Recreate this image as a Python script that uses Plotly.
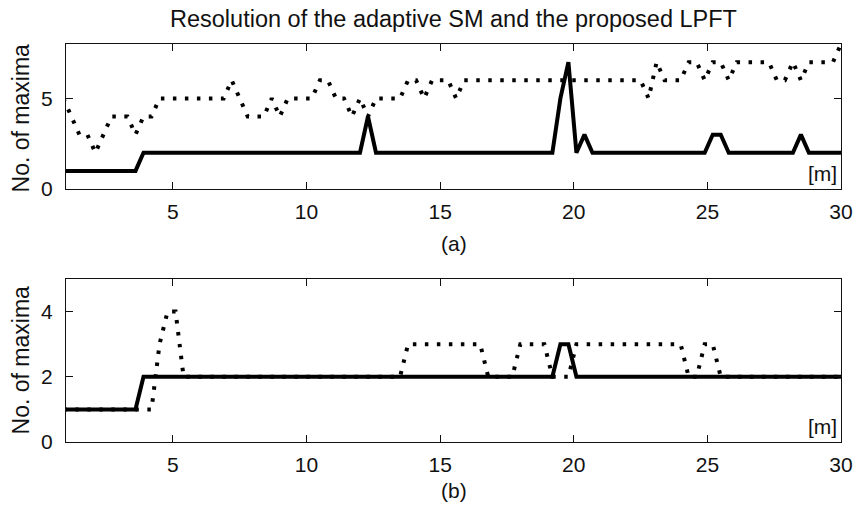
import plotly.graph_objects as go
from plotly.subplots import make_subplots

# distance grid [m] (sampling step 0.3 m)
dist_m = [round(0.3 * k, 1) for k in range(3, 101)]

# panel (a): number of maxima
a_solid = [1, 1, 1, 1, 1, 1, 1, 1, 1, 1,
           2, 2, 2, 2, 2, 2, 2, 2, 2, 2,
           2, 2, 2, 2, 2, 2, 2, 2, 2, 2,
           2, 2, 2, 2, 2, 2, 2, 2, 4, 2,
           2, 2, 2, 2, 2, 2, 2, 2, 2, 2,
           2, 2, 2, 2, 2, 2, 2, 2, 2, 2,
           2, 2, 5, 7, 2, 3, 2, 2, 2, 2,
           2, 2, 2, 2, 2, 2, 2, 2, 2, 2,
           2, 3, 3, 2, 2, 2, 2, 2, 2, 2,
           2, 2, 3, 2, 2, 2, 2, 2]
a_dotted = [5, 4, 3, 3, 2, 3, 4, 4, 4, 3,
            4, 4, 5, 5, 5, 5, 5, 5, 5, 5,
            5, 6, 5, 4, 4, 4, 5, 4, 5, 5,
            5, 5, 6, 6, 5, 5, 4, 5, 4, 5,
            5, 5, 5, 6, 6, 5, 6, 6, 6, 5,
            6, 6, 6, 6, 6, 6, 6, 6, 6, 6,
            6, 6, 6, 6, 6, 6, 6, 6, 6, 6,
            6, 6, 6, 5, 7, 6, 6, 6, 7, 7,
            6, 7, 7, 6, 7, 7, 7, 7, 7, 6,
            6, 7, 6, 7, 7, 7, 7, 8]

# panel (b)
b_solid = [1, 1, 1, 1, 1, 1, 1, 1, 1, 1,
           2, 2, 2, 2, 2, 2, 2, 2, 2, 2,
           2, 2, 2, 2, 2, 2, 2, 2, 2, 2,
           2, 2, 2, 2, 2, 2, 2, 2, 2, 2,
           2, 2, 2, 2, 2, 2, 2, 2, 2, 2,
           2, 2, 2, 2, 2, 2, 2, 2, 2, 2,
           2, 2, 3, 3, 2, 2, 2, 2, 2, 2,
           2, 2, 2, 2, 2, 2, 2, 2, 2, 2,
           2, 2, 2, 2, 2, 2, 2, 2, 2, 2,
           2, 2, 2, 2, 2, 2, 2, 2]
b_dotted = [1, 1, 1, 1, 1, 1, 1, 1, 1, 1,
            1, 1, 3, 4, 4, 2, 2, 2, 2, 2,
            2, 2, 2, 2, 2, 2, 2, 2, 2, 2,
            2, 2, 2, 2, 2, 2, 2, 2, 2, 2,
            2, 2, 2, 3, 3, 3, 3, 3, 3, 3,
            3, 3, 3, 2, 2, 2, 2, 3, 3, 3,
            3, 2, 2, 2, 3, 3, 3, 3, 3, 3,
            3, 3, 3, 3, 3, 3, 3, 3, 2, 2,
            3, 3, 2, 2, 2, 2, 2, 2, 2, 2,
            2, 2, 2, 2, 2, 2, 2, 2]

x_ticks = [5, 10, 15, 20, 25, 30]
a_yticks = [0, 5]
b_yticks = [0, 2, 4]

title_text = "Resolution of the adaptive SM and the proposed LPFT"
ylab = "No. of maxima"

FONT = "Liberation Sans, Arial, Helvetica, sans-serif"
INK = "#111111"

fig = make_subplots(rows=2, cols=1)

solid = dict(color="black", width=4)
dotted = dict(color="black", width=4, dash="3.5px,8.5px")

fig.add_trace(go.Scatter(x=dist_m, y=a_solid, mode="lines", line=solid,
                         showlegend=False), row=1, col=1)
fig.add_trace(go.Scatter(x=dist_m, y=a_dotted, mode="lines", line=dotted,
                         showlegend=False), row=1, col=1)
fig.add_trace(go.Scatter(x=dist_m, y=b_solid, mode="lines", line=solid,
                         showlegend=False), row=2, col=1)
fig.add_trace(go.Scatter(x=dist_m, y=b_dotted, mode="lines", line=dotted,
                         showlegend=False), row=2, col=1)

axis_common = dict(showline=True, linecolor=INK, linewidth=1, mirror="ticks",
                   ticks="inside", ticklen=7, tickwidth=1, tickcolor=INK,
                   showgrid=False, zeroline=False,
                   tickfont=dict(family=FONT, size=21, color=INK))

fig.update_xaxes(range=[1, 30], tickvals=x_ticks, ticklabelstandoff=4,
                 **axis_common)
fig.update_yaxes(ticklabelstandoff=8, **axis_common)
fig.update_yaxes(range=[0, 8], tickvals=a_yticks, row=1, col=1)
fig.update_yaxes(range=[0, 5], tickvals=b_yticks, row=2, col=1)

H = 398.0
fig.update_layout(
    width=865, height=513,
    margin=dict(l=66, r=17, t=44, b=71),
    plot_bgcolor="white", paper_bgcolor="white",
    xaxis=dict(domain=[0, 1]), yaxis=dict(domain=[(442 - 189) / H, 1]),
    xaxis2=dict(domain=[0, 1]), yaxis2=dict(domain=[0, (442 - 279) / H]),
)

ann_font = dict(family=FONT, size=21, color=INK)
lab_font = dict(family=FONT, size=23, color=INK)
annotations = [
    dict(text=title_text, xref="paper", yref="paper", x=0.5, y=(442 - 19) / H,
         xanchor="center", yanchor="middle", showarrow=False,
         font=dict(family=FONT, size=23.5, color=INK)),
    dict(text="(a)", xref="paper", yref="paper", x=0.5, y=(442 - 244) / H,
         xanchor="center", yanchor="middle", showarrow=False, font=ann_font),
    dict(text="(b)", xref="paper", yref="paper", x=0.5, y=(442 - 490) / H,
         xanchor="center", yanchor="middle", showarrow=False, font=ann_font),
    dict(text=ylab, xref="paper", yref="paper", x=(21 - 66) / 782.0,
         y=(442 - 118) / H, textangle=-90, xanchor="center", yanchor="middle",
         showarrow=False, font=lab_font),
    dict(text=ylab, xref="paper", yref="paper", x=(21 - 66) / 782.0,
         y=(442 - 360) / H, textangle=-90, xanchor="center", yanchor="middle",
         showarrow=False, font=lab_font),
    dict(text="[m]", xref="x domain", yref="y domain", x=1, y=0,
         xanchor="right", yanchor="bottom", xshift=-2, yshift=2,
         showarrow=False, font=ann_font),
    dict(text="[m]", xref="x2 domain", yref="y2 domain", x=1, y=0,
         xanchor="right", yanchor="bottom", xshift=-2, yshift=2,
         showarrow=False, font=ann_font),
]
fig.update_layout(annotations=annotations)

fig.write_html("out.html")
